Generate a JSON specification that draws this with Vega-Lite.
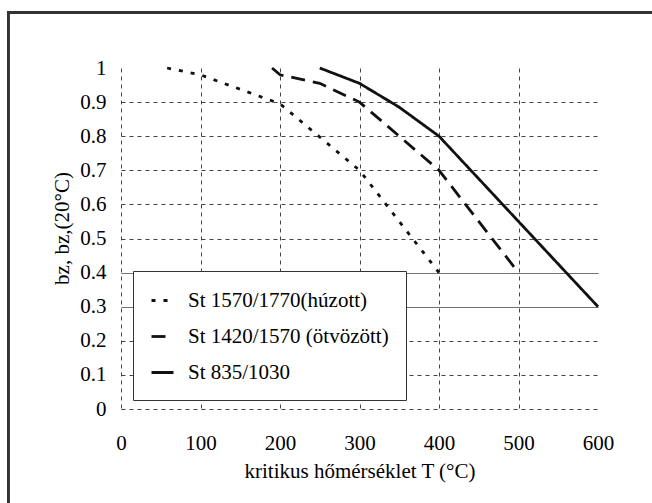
{
  "$schema": "https://vega.github.io/schema/vega-lite/v6.json",
  "width": 477,
  "height": 341,
  "autosize": {"type": "none"},
  "padding": {"left": 121, "top": 68, "right": 54, "bottom": 94},
  "background": "white",
  "config": {
    "view": {"stroke": null},
    "font": "Liberation Serif",
    "style": {
      "guide-label": {"font": "Liberation Serif"},
      "guide-title": {"font": "Liberation Serif"}
    },
    "axis": {"labelFont": "Liberation Serif", "titleFont": "Liberation Serif"},
    "legend": {"labelFont": "Liberation Serif"}
  },
  "data": {
    "values": [
      {"series": "St 1570/1770(húzott)", "T": 58, "v": 1.0},
      {"series": "St 1570/1770(húzott)", "T": 100, "v": 0.98},
      {"series": "St 1570/1770(húzott)", "T": 200, "v": 0.895},
      {"series": "St 1570/1770(húzott)", "T": 300, "v": 0.7},
      {"series": "St 1570/1770(húzott)", "T": 400, "v": 0.4},
      {"series": "St 1420/1570 (ötvözött)", "T": 190, "v": 1.0},
      {"series": "St 1420/1570 (ötvözött)", "T": 200, "v": 0.98},
      {"series": "St 1420/1570 (ötvözött)", "T": 250, "v": 0.955},
      {"series": "St 1420/1570 (ötvözött)", "T": 300, "v": 0.9},
      {"series": "St 1420/1570 (ötvözött)", "T": 400, "v": 0.7},
      {"series": "St 1420/1570 (ötvözött)", "T": 500, "v": 0.4},
      {"series": "St 835/1030", "T": 250, "v": 1.0},
      {"series": "St 835/1030", "T": 300, "v": 0.955},
      {"series": "St 835/1030", "T": 350, "v": 0.885},
      {"series": "St 835/1030", "T": 400, "v": 0.8},
      {"series": "St 835/1030", "T": 450, "v": 0.675},
      {"series": "St 835/1030", "T": 500, "v": 0.55},
      {"series": "St 835/1030", "T": 600, "v": 0.3}
    ]
  },
  "resolve": {"axis": {"x": "independent", "y": "independent"}},
  "layer": [
    {
      "mark": {"type": "line", "color": "#111", "strokeWidth": 2.8},
      "encoding": {
        "x": {
          "field": "T",
          "type": "quantitative",
          "scale": {"domain": [0, 600], "nice": false},
          "axis": {
            "values": [0, 100, 200, 300, 400, 500, 600],
            "format": "d",
            "grid": true,
            "gridColor": "#444",
            "gridWidth": 1,
            "gridDash": [4, 4],
            "gridOpacity": {"condition": {"test": "datum.value == 600", "value": 0}, "value": 1},
            "domain": false,
            "ticks": false,
            "tickSize": 0,
            "labelPadding": 40,
            "labelBaseline": "alphabetic",
            "labelFlush": false,
            "labelOverlap": false,
            "labelFont": "Liberation Serif",
            "labelFontSize": 21,
            "labelColor": "#000",
            "title": "kritikus hőmérséklet T (°C)",
            "titleFont": "Liberation Serif",
            "titleFontSize": 21,
            "titleFontWeight": "normal",
            "titleColor": "#000",
            "titleBaseline": "alphabetic",
            "titleY": 68
          }
        },
        "y": {
          "field": "v",
          "type": "quantitative",
          "scale": {"domain": [0, 1], "nice": false},
          "axis": {
            "values": [0, 0.1, 0.2, 0.3, 0.4, 0.5, 0.6, 0.7, 0.8, 0.9, 1],
            "format": "~g",
            "grid": true,
            "gridColor": "#444",
            "gridWidth": 1,
            "gridDash": {"condition": {"test": "datum.value == 0.4 || datum.value == 0.3", "value": [1, 0]}, "value": [4, 4]},
            "gridOpacity": {"condition": {"test": "datum.value == 1", "value": 0}, "value": 1},
            "domain": false,
            "ticks": false,
            "tickSize": 0,
            "labelPadding": 15,
            "labelFont": "Liberation Serif",
            "labelFontSize": 21,
            "labelColor": "#000",
            "labelOverlap": false,
            "title": "bz, bz,(20°C)",
            "titleFont": "Liberation Serif",
            "titleFontSize": 21,
            "titleFontWeight": "normal",
            "titleColor": "#000",
            "titleAngle": -90,
            "titleAlign": "center",
            "titleBaseline": "middle",
            "titleX": -59,
            "titleY": 160
          }
        },
        "strokeDash": {
          "field": "series",
          "type": "nominal",
          "sort": ["St 1570/1770(húzott)", "St 1420/1570 (ötvözött)", "St 835/1030"],
          "scale": {
            "domain": ["St 1570/1770(húzott)", "St 1420/1570 (ötvözött)", "St 835/1030"],
            "range": [[4, 8], [14, 8], [1, 0]]
          },
          "legend": {
            "title": null,
            "orient": "none",
            "legendX": 12,
            "legendY": 203,
            "padding": 17,
            "fillColor": "white",
            "strokeColor": "#333",
            "labelFont": "Liberation Serif",
            "labelFontSize": 21,
            "labelColor": "#000",
            "labelLimit": 400,
            "labelOffset": 13,
            "rowPadding": 13,
            "symbolType": "stroke",
            "symbolSize": 484,
            "symbolStrokeWidth": 2.8,
            "symbolStrokeColor": "#111"
          }
        }
      }
    },
    {
      "mark": {"type": "rect", "fill": null, "stroke": "#333", "strokeWidth": 2, "clip": false},
      "encoding": {
        "x": {"datum": -142, "type": "quantitative", "axis": null},
        "x2": {"datum": 760},
        "y": {"datum": 1.163, "type": "quantitative", "axis": null},
        "y2": {"datum": -0.5}
      }
    }
  ]
}
